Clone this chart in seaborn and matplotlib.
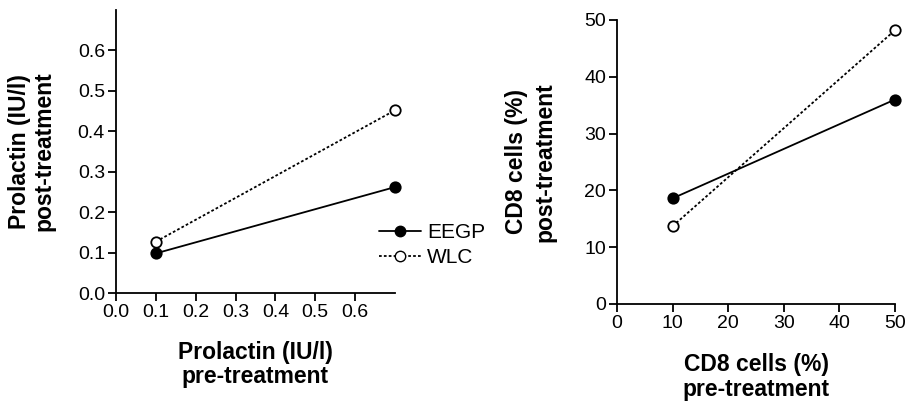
import matplotlib
matplotlib.use("Agg")
import matplotlib.pyplot as plt
import seaborn as sns
import pandas as pd
from matplotlib.lines import Line2D

# ---- data ----
groups = ["EEGP", "WLC"]
prl_pre = [0.1, 0.7]
prl_post_eegp = [0.098, 0.262]
prl_post_wlc = [0.127, 0.452]
cd8_pre = [10, 50]
cd8_post_eegp = [18.6, 36.0]
cd8_post_wlc = [13.7, 48.2]
prl_ticks = [0.0, 0.1, 0.2, 0.3, 0.4, 0.5, 0.6]
cd8_ticks = [0, 10, 20, 30, 40, 50]

prl_df = pd.DataFrame({
    "pre": prl_pre + prl_pre,
    "post": prl_post_eegp + prl_post_wlc,
    "group": [groups[0]] * 2 + [groups[1]] * 2,
})
cd8_df = pd.DataFrame({
    "pre": cd8_pre + cd8_pre,
    "post": cd8_post_eegp + cd8_post_wlc,
    "group": [groups[0]] * 2 + [groups[1]] * 2,
})

sns.set_style("ticks")
plt.rcParams["font.family"] = ["Liberation Sans", "DejaVu Sans"]
plt.rcParams["axes.linewidth"] = 1.3
plt.rcParams["xtick.major.width"] = 1.3
plt.rcParams["ytick.major.width"] = 1.3
plt.rcParams["xtick.major.size"] = 6
plt.rcParams["ytick.major.size"] = 6
plt.rcParams["axes.edgecolor"] = "black"
plt.rcParams["xtick.color"] = "black"
plt.rcParams["ytick.color"] = "black"
plt.rcParams["text.color"] = "black"
plt.rcParams["axes.labelcolor"] = "black"
plt.rcParams["xtick.labelcolor"] = "black"
plt.rcParams["ytick.labelcolor"] = "black"

fig = plt.figure(figsize=(9.09, 4.04), dpi=100)
ax1 = fig.add_axes([116 / 909, 1 - 293 / 404, (395 - 116) / 909, (293 - 10) / 404])
ax2 = fig.add_axes([617 / 909, 1 - 304 / 404, (895 - 617) / 909, (304 - 20) / 404])

styles = {
    "EEGP": dict(linestyle="-", markerfacecolor="black"),
    "WLC": dict(linestyle=(0, (1.5, 1.2)), markerfacecolor="white"),
}

LABEL_FS = 16.5
TICK_FS = 14


def draw(ax, df):
    for g in groups:
        sub = df[df["group"] == g]
        sns.lineplot(data=sub, x="pre", y="post", ax=ax, color="black",
                     marker="o", markersize=7.5, markeredgecolor="black",
                     markeredgewidth=1.3, linewidth=1.3, clip_on=False,
                     estimator=None, legend=False, **styles[g])
    sns.despine(ax=ax)
    ax.tick_params(labelsize=TICK_FS, direction="out", pad=2)


draw(ax1, prl_df)
ax1.set_xlim(0, 0.7)
ax1.set_ylim(0, 0.7)
ax1.set_xticks(prl_ticks)
ax1.set_yticks(prl_ticks)
ax1.set_xticklabels([f"{t:.1f}" for t in prl_ticks])
ax1.set_yticklabels([f"{t:.1f}" for t in prl_ticks])
ax1.set_xlabel("Prolactin (IU/l)\npre-treatment", fontsize=LABEL_FS, fontweight="bold",
               labelpad=14, linespacing=1.1)
ax1.set_ylabel("Prolactin (IU/l)\npost-treatment", fontsize=LABEL_FS, fontweight="bold",
               labelpad=16, linespacing=1.1)

draw(ax2, cd8_df)
ax2.set_xlim(0, 50)
ax2.set_ylim(0, 50)
ax2.set_xticks(cd8_ticks)
ax2.set_yticks(cd8_ticks)
ax2.set_xlabel("CD8 cells (%)\npre-treatment", fontsize=LABEL_FS, fontweight="bold",
               labelpad=15, linespacing=1.1)
ax2.set_ylabel("CD8 cells (%)\npost-treatment", fontsize=LABEL_FS, fontweight="bold",
               labelpad=20, linespacing=1.3)

handles = [
    Line2D([], [], color="black", marker="o", markersize=7.5, markeredgecolor="black",
           linewidth=1.3, **styles[g]) for g in groups
]
fig.legend(handles, groups, loc="center left", bbox_to_anchor=(379 / 909, 1 - 245 / 404),
           frameon=False, fontsize=15, handlelength=2.0, handletextpad=0.3,
           labelspacing=0.3, borderaxespad=0, borderpad=0, labelcolor="black")

fig.savefig("out.png", dpi=100)
